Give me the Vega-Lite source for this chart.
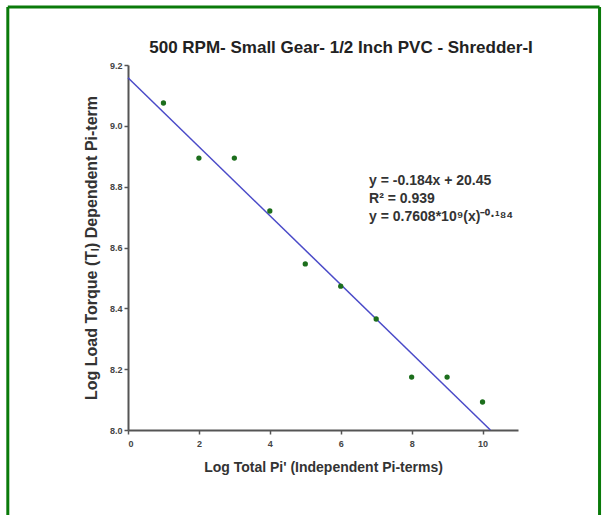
{
  "$schema": "https://vega.github.io/schema/vega-lite/v6.json",
  "autosize": "none",
  "width": 390,
  "height": 365,
  "padding": {"left": 128, "top": 65, "right": 84, "bottom": 85},
  "background": "white",
  "config": {"view": {"stroke": null}, "font": "Liberation Sans"},
  "title": {"text": "500 RPM- Small Gear- 1/2 Inch PVC - Shredder-I", "fontSize": 17, "fontWeight": "bold", "color": "#222", "anchor": "middle", "dx": 18, "offset": -65, "baseline": "alphabetic"},
  "datasets": {
    "pts": [
      {"x": 1, "y": 9.075}, {"x": 2, "y": 8.894}, {"x": 3, "y": 8.894}, {"x": 4, "y": 8.72},
      {"x": 5, "y": 8.546}, {"x": 6, "y": 8.473}, {"x": 7, "y": 8.365}, {"x": 8, "y": 8.174},
      {"x": 9, "y": 8.174}, {"x": 10, "y": 8.092}
    ],
    "fit": [{"x": 0, "y": 9.158}, {"x": 10.22, "y": 8.0}],
    "eq": [
      {"x": 6.8, "y": 8.82, "t": "y = -0.184x + 20.45"},
      {"x": 6.8, "y": 8.76, "t": "R² = 0.939"},
      {"x": 6.8, "y": 8.70, "t": "y = 0.7608*10⁹(x)⁻⁰·¹⁸⁴"}
    ],
    "frame": [
      {"x": -3.39, "y": 9.391, "x2": 13.3, "y2": 9.391},
      {"x": -3.39, "y": 9.391, "x2": -3.39, "y2": 7.6},
      {"x": 13.3, "y": 9.391, "x2": 13.3, "y2": 7.6}
    ]
  },
  "layer": [
    {
      "data": {"name": "frame"},
      "mark": {"type": "rule", "color": "#0a7a0a", "strokeWidth": 3},
      "encoding": {
        "x": {"field": "x", "type": "quantitative", "scale": {"domain": [0, 11], "nice": false}},
        "y": {"field": "y", "type": "quantitative", "scale": {"domain": [8.0, 9.2], "nice": false, "zero": false}},
        "x2": {"field": "x2"},
        "y2": {"field": "y2"}
      }
    },
    {
      "data": {"name": "fit"},
      "mark": {"type": "line", "color": "#4a4ac8", "strokeWidth": 1.5},
      "encoding": {
        "x": {"field": "x", "type": "quantitative", "scale": {"domain": [0, 11], "nice": false},
          "axis": {"values": [0, 2, 4, 6, 8, 10], "grid": false, "title": "Log Total Pi' (Independent Pi-terms)",
            "titleFontSize": 14, "titleFontWeight": "bold", "titleColor": "#333", "titlePadding": 12,
            "labelFontSize": 9, "labelFontWeight": "bold", "labelColor": "#444", "labelPadding": 5, "domainColor": "#555", "domainWidth": 2,
            "tickColor": "#555", "tickWidth": 1.5, "tickSize": 4}},
        "y": {"field": "y", "type": "quantitative", "scale": {"domain": [8.0, 9.2], "nice": false, "zero": false},
          "axis": {"values": [8.0, 8.2, 8.4, 8.6, 8.8, 9.0, 9.2], "format": ".1f", "grid": false,
            "title": "Log Load Torque (Tₗ) Dependent Pi-term",
            "titleFontSize": 16, "titleFontWeight": "bold", "titleColor": "#333", "titlePadding": 10,
            "labelFontSize": 9, "labelFontWeight": "bold", "labelColor": "#444", "domainColor": "#555", "domainWidth": 2,
            "tickColor": "#555", "tickWidth": 1.5, "tickSize": 4}}
      }
    },
    {
      "data": {"name": "pts"},
      "mark": {"type": "circle", "color": "#1c6e1c", "size": 28, "opacity": 1},
      "encoding": {
        "x": {"field": "x", "type": "quantitative"},
        "y": {"field": "y", "type": "quantitative"}
      }
    },
    {
      "data": {"name": "eq"},
      "mark": {"type": "text", "align": "left", "baseline": "middle", "fontSize": 14, "fontWeight": "bold", "color": "#333"},
      "encoding": {
        "x": {"field": "x", "type": "quantitative"},
        "y": {"field": "y", "type": "quantitative"},
        "text": {"field": "t"}
      }
    }
  ]
}
